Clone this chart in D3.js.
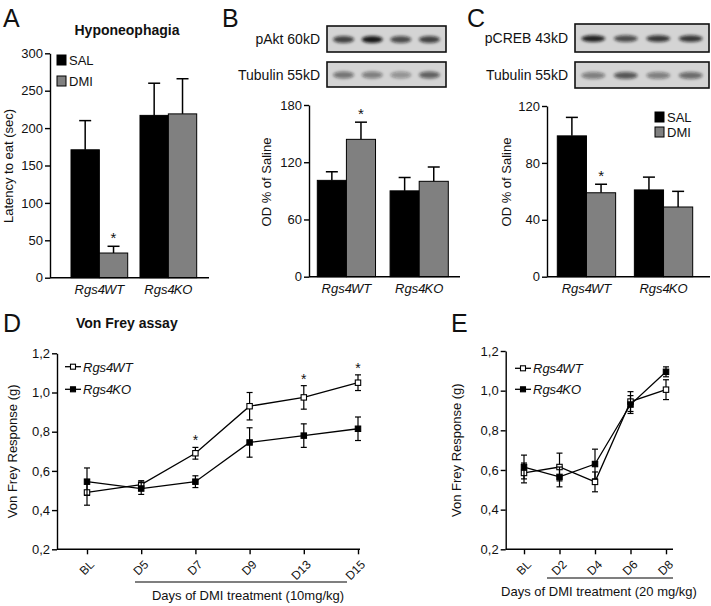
<!DOCTYPE html>
<html><head><meta charset="utf-8">
<script src="https://cdn.jsdelivr.net/npm/d3@7"></script>
<style>
body{margin:0;background:#fff}
svg{display:block}
text{font-family:"Liberation Sans",Arial,Helvetica,sans-serif;fill:#111}
</style>
</head><body>
<svg id="c" width="711" height="606"></svg>
<script>
// ---------------- DATA ----------------
const genotypes = ["WT", "KO"];
const treatments = ["SAL", "DMI"];

// Panel A: Hyponeophagia, latency to eat (sec)
const hypoSAL = [171, 217];
const hypoSALerr = [39, 43];
const hypoDMI = [33, 219];
const hypoDMIerr = [9, 47];
const ticksA = [0, 50, 100, 150, 200, 250, 300];

// Panel B: pAkt OD % of saline
const aktSAL = [101, 90];
const aktSALerr = [9, 14];
const aktDMI = [144, 100];
const aktDMIerr = [18, 15];
const ticksB = [0, 60, 120, 180];

// Panel C: pCREB OD % of saline
const crebSAL = [99, 61];
const crebSALerr = [13, 9];
const crebDMI = [59, 49];
const crebDMIerr = [6, 11];
const ticksC = [0, 40, 80, 120];

// Western blot band intensities (4 lanes each)
const blotAkt = [0.75, 0.95, 0.7, 0.75];
const blotTubB = [0.5, 0.45, 0.35, 0.6];
const blotCreb = [0.9, 0.7, 0.8, 0.8];
const blotTubC = [0.45, 0.65, 0.45, 0.55];

// Panel D: Von Frey 10 mg/kg
const daysD = ["BL", "D5", "D7", "D9", "D13", "D15"];
const wtD = [0.49, 0.53, 0.69, 0.93, 0.975, 1.05];
const wtDerr = [0.065, 0.02, 0.03, 0.07, 0.06, 0.04];
const koD = [0.545, 0.51, 0.545, 0.745, 0.78, 0.815];
const koDerr = [0.07, 0.03, 0.03, 0.075, 0.06, 0.06];
const starsD = ["D7", "D13", "D15"];

// Panel E: Von Frey 20 mg/kg
const daysE = ["BL", "D2", "D4", "D6", "D8"];
const wtE = [0.585, 0.615, 0.54, 0.945, 1.005];
const wtEerr = [0.05, 0.07, 0.05, 0.05, 0.05];
const koE = [0.615, 0.565, 0.63, 0.93, 1.095];
const koEerr = [0.06, 0.05, 0.075, 0.045, 0.025];

const ticksVF = [0.2, 0.4, 0.6, 0.8, 1.0, 1.2];
const fmtComma = d => d3.format(".1f")(d).replace(".", ",");

const colors = {SAL: "#000000", DMI: "#808080"};

// ---------------- DRAWING ----------------
const svg = d3.select("#c");
const defs = svg.append("defs");
defs.append("filter").attr("id", "blur").attr("x", "-50%").attr("y", "-100%").attr("width", "200%").attr("height", "300%")
  .append("feGaussianBlur").attr("stdDeviation", 1.8);

function panelLetter(t, x, y) {
  svg.append("text").attr("x", x).attr("y", y).attr("font-size", 25).text(t);
}

function groupLabel(g, x, y, name) {
  const t = g.append("text").attr("x", x).attr("y", y).attr("text-anchor", "middle").attr("font-size", 13);
  t.append("tspan").attr("font-style", "italic").text("Rgs4");
  t.append("tspan").attr("font-style", "italic").attr("dx", -1).text(name);
}

function barPanel(o) {
  const g = svg.append("g");
  const y = d3.scaleLinear().domain([0, o.max]).range([o.y0, o.yTop]);
  const xg = d3.scaleBand().domain(genotypes).range(o.bandRange).paddingInner(o.pad).paddingOuter(0);
  const xs = d3.scaleBand().domain(treatments).range([0, xg.bandwidth()]);
  const data = {SAL: [o.sal, o.salErr], DMI: [o.dmi, o.dmiErr]};
  genotypes.forEach((gt, i) => {
    treatments.forEach(tr => {
      const v = data[tr][0][i], e = data[tr][1][i];
      const bx = xg(gt) + xs(tr), bw = xs.bandwidth();
      const cx = bx + bw / 2;
      g.append("line").attr("x1", cx).attr("x2", cx).attr("y1", y(v)).attr("y2", y(v + e))
        .attr("stroke", "#000").attr("stroke-width", 1.5);
      g.append("line").attr("x1", cx - 6).attr("x2", cx + 6).attr("y1", y(v + e)).attr("y2", y(v + e))
        .attr("stroke", "#000").attr("stroke-width", 1.5);
      g.append("rect").attr("x", bx).attr("y", y(v)).attr("width", bw).attr("height", y(0) - y(v))
        .attr("fill", colors[tr]).attr("stroke", "#000").attr("stroke-width", 1);
      if (o.star && o.star.g === gt && o.star.t === tr) {
        g.append("text").attr("x", cx).attr("y", y(v + e) - 3).attr("text-anchor", "middle")
          .attr("font-size", 15).text("*");
      }
    });
    groupLabel(g, xg(gt) + xg.bandwidth() / 2, o.labelY, gt);
  });
  const ax = g.append("g").attr("transform", `translate(${o.axisX},0)`)
    .call(d3.axisLeft(y).tickValues(o.ticks).tickSize(5).tickSizeOuter(0).tickPadding(2));
  ax.selectAll("path,line").attr("stroke", "#000").attr("stroke-width", 1.4);
  ax.selectAll("text").attr("font-size", 13).attr("font-family", "Liberation Sans, Arial, sans-serif").attr("fill", "#111");
  g.append("line").attr("x1", o.axisX).attr("x2", o.axisEnd).attr("y1", y(0)).attr("y2", y(0))
    .attr("stroke", "#000").attr("stroke-width", 1.4);
  g.append("text").attr("transform", `translate(${o.titleX},${o.titleY}) rotate(-90)`)
    .attr("text-anchor", "middle").attr("font-size", 13).text(o.yTitle);
  return g;
}

function legendBars(x, y1, y2) {
  [["SAL", y1], ["DMI", y2]].forEach(([k, yy]) => {
    svg.append("rect").attr("x", x).attr("y", yy - 5).attr("width", 9).attr("height", 10)
      .attr("fill", colors[k]).attr("stroke", "#000").attr("stroke-width", 1);
    svg.append("text").attr("x", x + 12).attr("y", yy + 5).attr("font-size", 13).text(k);
  });
}

function blot(x, y, w, h, bands, label, labelX) {
  const g = svg.append("g");
  g.append("rect").attr("x", x).attr("y", y).attr("width", w).attr("height", h).attr("fill", "#d4d4d4");
  const lane = d3.scaleBand().domain(d3.range(bands.length)).range([x + 4, x + w - 4]).paddingInner(0.12);
  const gb = g.append("g").attr("filter", "url(#blur)");
  bands.forEach((v, i) => {
    gb.append("ellipse").attr("cx", lane(i) + lane.bandwidth() / 2).attr("cy", y + h * 0.52)
      .attr("rx", lane.bandwidth() * 0.42).attr("ry", 3.4)
      .attr("fill", "#111").attr("opacity", v);
  });
  g.append("rect").attr("x", x).attr("y", y).attr("width", w).attr("height", h)
    .attr("fill", "none").attr("stroke", "#111").attr("stroke-width", 1.6);
  svg.append("text").attr("x", labelX).attr("y", y + h / 2 + 5).attr("text-anchor", "end")
    .attr("font-size", 14).text(label);
}

function linePanel(o) {
  const g = svg.append("g");
  const y = d3.scaleLinear().domain([0.2, 1.2]).range([o.y0, o.yTop]);
  const x = d3.scalePoint().domain(o.days).range(o.xRange);
  const ay = g.append("g").attr("transform", `translate(${o.axisX},0)`)
    .call(d3.axisLeft(y).tickValues(ticksVF).tickFormat(fmtComma).tickSize(5).tickSizeOuter(0).tickPadding(2));
  ay.selectAll("path,line").attr("stroke", "#000").attr("stroke-width", 1.4);
  ay.selectAll("text").attr("font-size", 13).attr("font-family", "Liberation Sans, Arial, sans-serif").attr("fill", "#111");
  g.append("line").attr("x1", o.axisX).attr("x2", o.axisEnd).attr("y1", o.y0).attr("y2", o.y0)
    .attr("stroke", "#000").attr("stroke-width", 1.4);
  const ax = g.append("g").attr("transform", `translate(0,${o.y0})`)
    .call(d3.axisBottom(x).tickSize(5).tickSizeOuter(0).tickFormat(""));
  ax.select("path").remove();
  ax.selectAll("line").attr("stroke", "#000").attr("stroke-width", 1.4);
  o.days.forEach(d => {
    g.append("text").attr("transform", `translate(${x(d) + 2},${o.y0 + 10}) rotate(-45)`)
      .attr("text-anchor", "end").attr("dy", "0.7em").attr("font-size", 12).text(d);
  });
  const series = [
    {v: o.wt, e: o.wtErr, fill: "#fff"},
    {v: o.ko, e: o.koErr, fill: "#000"}
  ];
  const line = d3.line().x((d, i) => x(o.days[i])).y(d => y(d));
  series.forEach(s => {
    g.append("path").attr("d", line(s.v)).attr("fill", "none").attr("stroke", "#000").attr("stroke-width", 1.3);
  });
  series.forEach(s => {
    s.v.forEach((v, i) => {
      const cx = x(o.days[i]);
      const e = s.e[i];
      g.append("line").attr("x1", cx).attr("x2", cx).attr("y1", y(v - e)).attr("y2", y(v + e))
        .attr("stroke", "#000").attr("stroke-width", 1.2);
      [v - e, v + e].forEach(b => g.append("line").attr("x1", cx - 3).attr("x2", cx + 3)
        .attr("y1", y(b)).attr("y2", y(b)).attr("stroke", "#000").attr("stroke-width", 1.2));
      g.append("rect").attr("x", cx - 2.7).attr("y", y(v) - 2.7).attr("width", 5.4).attr("height", 5.4)
        .attr("fill", s.fill).attr("stroke", "#000").attr("stroke-width", 1.1);
    });
  });
  (o.stars || []).forEach(d => {
    const i = o.days.indexOf(d);
    g.append("text").attr("x", x(d)).attr("y", y(o.wt[i] + o.wtErr[i]) - 2).attr("text-anchor", "middle")
      .attr("font-size", 14).text("*");
  });
  [["WT", o.legY1, "#fff"], ["KO", o.legY2, "#000"]].forEach(([n, ly, f]) => {
    g.append("line").attr("x1", o.legX).attr("x2", o.legX + 16).attr("y1", ly).attr("y2", ly)
      .attr("stroke", "#000").attr("stroke-width", 1.3);
    g.append("rect").attr("x", o.legX + 5.5).attr("y", ly - 2.5).attr("width", 5).attr("height", 5)
      .attr("fill", f).attr("stroke", "#000").attr("stroke-width", 1.1);
    const t = g.append("text").attr("x", o.legX + 18).attr("y", ly + 5).attr("font-size", 13).attr("font-style", "italic");
    t.append("tspan").text("Rgs4");
    t.append("tspan").attr("dx", -1).text(n);
  });
  g.append("text").attr("transform", `translate(${o.titleX},${(o.y0 + o.yTop) / 2}) rotate(-90)`)
    .attr("text-anchor", "middle").attr("font-size", 13).text("Von Frey Response (g)");
  g.append("line").attr("x1", o.ulX1).attr("x2", o.ulX2).attr("y1", o.ulY).attr("y2", o.ulY)
    .attr("stroke", "#000").attr("stroke-width", 1.2);
  g.append("text").attr("x", o.xTitleX).attr("y", o.ulY + 18).attr("text-anchor", "middle")
    .attr("font-size", 13).text(o.xTitle);
}

// Panel A
panelLetter("A", 3, 27);
svg.append("text").attr("x", 127).attr("y", 35).attr("text-anchor", "middle").attr("font-size", 14)
  .attr("font-weight", "bold").text("Hyponeophagia");
barPanel({max: 300, y0: 277.7, yTop: 53.3, bandRange: [71, 196.7], pad: 0.178, sal: hypoSAL, salErr: hypoSALerr,
  dmi: hypoDMI, dmiErr: hypoDMIerr, ticks: ticksA, axisX: 50, axisEnd: 209, labelY: 294,
  titleX: 13, titleY: 166, yTitle: "Latency to eat (sec)", star: {g: "WT", t: "DMI"}});
legendBars(57, 60, 81);

// Panel B
panelLetter("B", 222, 27);
blot(327, 26, 119, 26, blotAkt, "pAkt 60kD", 320);
blot(327, 62, 119, 25, blotTubB, "Tubulin 55kD", 320);
barPanel({max: 180, y0: 276.7, yTop: 105, bandRange: [317.3, 448.3], pad: 0.2, sal: aktSAL, salErr: aktSALerr,
  dmi: aktDMI, dmiErr: aktDMIerr, ticks: ticksB, axisX: 309, axisEnd: 460, labelY: 293,
  titleX: 271, titleY: 182, yTitle: "OD % of Saline", star: {g: "WT", t: "DMI"}});

// Panel C
panelLetter("C", 467, 27);
blot(575, 24, 134, 28, blotCreb, "pCREB 43kD", 568);
blot(575, 62, 134, 26, blotTubC, "Tubulin 55kD", 568);
barPanel({max: 120, y0: 276.7, yTop: 106, bandRange: [557.3, 692.7], pad: 0.243, sal: crebSAL, salErr: crebSALerr,
  dmi: crebDMI, dmiErr: crebDMIerr, ticks: ticksC, axisX: 547, axisEnd: 710, labelY: 293,
  titleX: 511, titleY: 182, yTitle: "OD % of Saline", star: {g: "WT", t: "DMI"}});
legendBars(655, 117, 132);

// Panel D
panelLetter("D", 3, 332);
svg.append("text").attr("x", 76).attr("y", 328).attr("font-size", 14).attr("font-weight", "bold").text("Von Frey assay");
linePanel({days: daysD, wt: wtD, wtErr: wtDerr, ko: koD, koErr: koDerr, stars: starsD,
  y0: 549.3, yTop: 353.3, xRange: [87, 358], axisX: 57, axisEnd: 360,
  legX: 65, legY1: 366.7, legY2: 389.3, titleX: 17,
  ulX1: 135, ulX2: 347, ulY: 582, xTitleX: 248, xTitle: "Days of DMI treatment (10mg/kg)"});

// Panel E
panelLetter("E", 451, 332);
linePanel({days: daysE, wt: wtE, wtErr: wtEerr, ko: koE, koErr: koEerr, stars: [],
  y0: 549.3, yTop: 351, xRange: [524, 666], axisX: 505.7, axisEnd: 673,
  legX: 515, legY1: 368.3, legY2: 389.3, titleX: 461,
  ulX1: 547, ulX2: 673, ulY: 578, xTitleX: 599, xTitle: "Days of DMI treatment (20 mg/kg)"});
</script>
</body></html>
